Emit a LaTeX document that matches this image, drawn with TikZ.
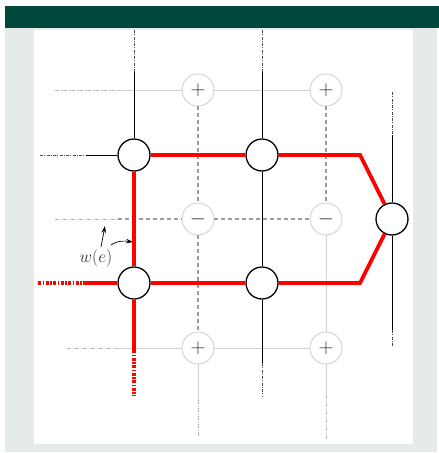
\documentclass[tikz,border=0pt]{standalone}
\usetikzlibrary{arrows.meta}
\definecolor{hdr}{HTML}{00483C}
\definecolor{panel}{HTML}{E5EBE8}
\definecolor{lgrey}{HTML}{D2D2D2}
\definecolor{dgrey}{HTML}{9C9C9C}
\definecolor{fadegrey}{HTML}{B8B8B8}
\definecolor{redline}{HTML}{FF0000}
\begin{document}
\begin{tikzpicture}[x=1pt,y=-1pt,
  bnode/.style={circle,draw=black,line width=1.3pt,minimum size=32pt,inner sep=0pt,fill=white},
  gnode/.style={circle,draw=lgrey,line width=0.9pt,minimum size=32pt,inner sep=0pt,fill=white,text=black!80,font=\fontsize{22}{24}\selectfont},
  blk/.style={draw=black,line width=1pt},
  blkfade/.style={draw=black!70,line width=1pt,dash pattern=on 3pt off 1pt on 1pt off 1.5pt},
  redthick/.style={draw=redline,line width=3.8pt},
  redfade/.style={draw=redline,line width=3.8pt,dash pattern=on 3pt off 1.5pt on 1.5pt off 1.5pt},
  gsolid/.style={draw=lgrey,line width=1pt},
  gdash/.style={draw=dgrey,line width=1.7pt,dash pattern=on 4pt off 3pt},
  gfade/.style={draw=fadegrey,line width=0.9pt,dash pattern=on 4pt off 1.5pt on 1pt off 1.5pt},
  lab/.style={font=\fontsize{19}{22}\selectfont,text=black!80},
  arr/.style={draw=black,line width=0.7pt,-{Stealth[length=7pt,width=4.5pt]}}]
% background
\useasboundingbox (0,0) rectangle (439,453);
\fill[white] (0,0) rectangle (439,453);
\fill[panel] (5,6) rectangle (437,452);
\fill[hdr] (5,6) rectangle (439,28);
\fill[white] (34,30) rectangle (413,444);
% coordinates
\coordinate (t1a) at (134,30); \coordinate (t1b) at (134,72);
\coordinate (t2a) at (262,30); \coordinate (t2b) at (262,72);
\coordinate (l1a) at (40,155); \coordinate (l1b) at (86,155);
\coordinate (d2a) at (262,363); \coordinate (d2b) at (262,396);
\coordinate (rta) at (392,92); \coordinate (rtb) at (392,135);
\coordinate (rba) at (392,330); \coordinate (rbb) at (392,347);
\coordinate (l2a) at (38,283); \coordinate (l2b) at (83,283);
\coordinate (d1a) at (134,350); \coordinate (d1b) at (134,396);
\coordinate (k1) at (360,155); \coordinate (k2) at (360,283);
\coordinate (h1a) at (55,90); \coordinate (h1b) at (118,90);
\coordinate (h2a) at (55,219); \coordinate (h2b) at (118,219);
\coordinate (h3a) at (67,348); \coordinate (h3b) at (118,348);
\coordinate (v1a) at (198,400); \coordinate (v1b) at (198,437);
\coordinate (v2a) at (326,395); \coordinate (v2b) at (326,440);
\coordinate (a1s) at (101,247); \coordinate (a1e) at (105,226);
\coordinate (a2s) at (111,245); \coordinate (a2e) at (133,242);
% grey nodes
\node[gnode] (p1) at (198,90) {$+$};
\node[gnode] (p2) at (326,90) {$+$};
\node[gnode] (m1) at (198,219) {$-$};
\node[gnode] (m2) at (326,219) {$-$};
\node[gnode] (p3) at (198,348) {$+$};
\node[gnode] (p4) at (326,348) {$+$};
% grey connectors
\draw[gfade] (h1a) -- (h1b);
\draw[gsolid] (h1b) -- (p1);
\draw[gsolid] (p1) -- (p2);
\draw[gfade] (h2a) -- (h2b);
\draw[gdash] (h2b) -- (m1);
\draw[gdash] (m1) -- (m2);
\draw[gfade] (h3a) -- (h3b);
\draw[gsolid] (h3b) -- (p3);
\draw[gsolid] (p3) -- (p4);
\draw[gdash] (p1) -- (m1);
\draw[gdash] (m1) -- (p3);
\draw[gsolid] (p3) -- (v1a);
\draw[gfade] (v1a) -- (v1b);
\draw[gdash] (p2) -- (m2);
\draw[gsolid] (m2) -- (p4);
\draw[gsolid] (p4) -- (v2a);
\draw[gfade] (v2a) -- (v2b);
% black nodes
\node[bnode] (b11) at (134,155) {};
\node[bnode] (b12) at (262,155) {};
\node[bnode] (b21) at (134,283) {};
\node[bnode] (b22) at (262,283) {};
\node[bnode] (br) at (392,219) {};
% black connectors
\draw[blkfade] (t1a) -- (t1b);
\draw[blk] (t1b) -- (b11);
\draw[blkfade] (t2a) -- (t2b);
\draw[blk] (t2b) -- (b12);
\draw[blkfade] (l1a) -- (l1b);
\draw[blk] (l1b) -- (b11);
\draw[blk] (b12) -- (b22);
\draw[blk] (b22) -- (d2a);
\draw[blkfade] (d2a) -- (d2b);
\draw[blkfade] (rta) -- (rtb);
\draw[blk] (rtb) -- (br);
\draw[blk] (br) -- (rba);
\draw[blkfade] (rba) -- (rbb);
% red path
\draw[redthick] (b11) -- (b12);
\draw[redthick,line join=miter] (b12) -- (k1) -- (br);
\draw[redthick] (b11) -- (b21);
\draw[redthick] (b21) -- (b22);
\draw[redthick,line join=miter] (b22) -- (k2) -- (br);
\draw[redfade] (l2a) -- (l2b);
\draw[redthick] (l2b) -- (b21);
\draw[redthick] (b21) -- (d1a);
\draw[redfade] (d1a) -- (d1b);
% label
\node[lab] (w) at (96,258) {$w(e)$};
\draw[arr] (a1s) -- (a1e);
\draw[arr] (a2s) .. controls (118,240) and (126,241) .. (a2e);
\end{tikzpicture}
\end{document}
